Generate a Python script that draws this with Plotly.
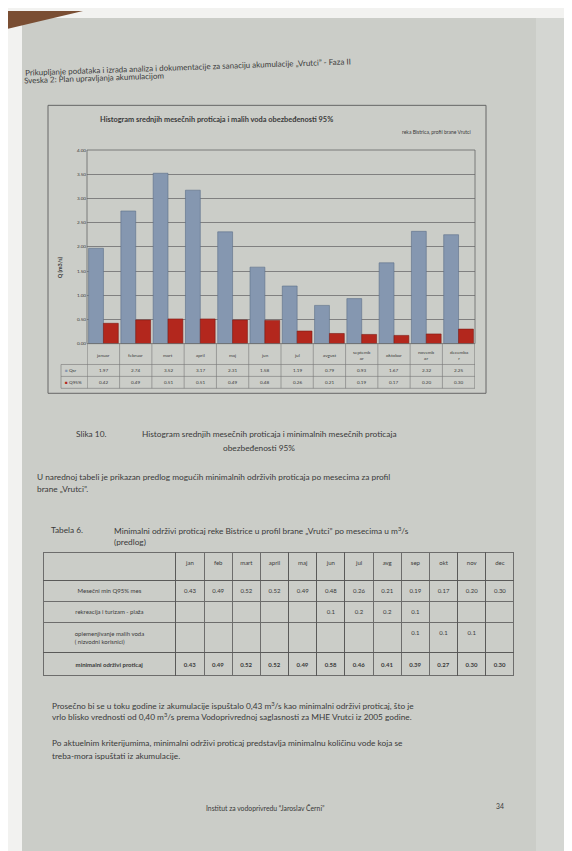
import plotly.graph_objects as go

# ---------------- data ----------------
months_chart = ["januar", "februar", "mart", "april", "maj", "jun", "jul",
                "avgust", "septemb<br>ar", "oktobar", "novemb<br>ar", "decemba<br>r"]
q_sr = [1.97, 2.74, 3.52, 3.17, 2.31, 1.58, 1.19, 0.79, 0.93, 1.67, 2.32, 2.25]
q_95 = [0.42, 0.49, 0.51, 0.51, 0.49, 0.48, 0.26, 0.21, 0.19, 0.17, 0.20, 0.30]
y_ticks = [0.0, 0.5, 1.0, 1.5, 2.0, 2.5, 3.0, 3.5, 4.0]

tab_months = ["jan", "feb", "mart", "april", "maj", "jun", "jul", "avg",
              "sep", "okt", "nov", "dec"]
tab_row_labels = ["Mesečni min Q95% mes", "rekreacija i turizam - plaža",
                  "oplemenjivanje malih voda<br>( nizvodni korisnici)",
                  "<b>minimalni održivi proticaj</b>"]
tab_q95 = ["0.43", "0.49", "0.52", "0.52", "0.49", "0.48", "0.26", "0.21", "0.19", "0.17", "0.20", "0.30"]
tab_rek = ["", "", "", "", "", "0.1", "0.2", "0.2", "0.1", "", "", ""]
tab_opl = ["", "", "", "", "", "", "", "", "0.1", "0.1", "0.1", ""]
tab_min = ["0.43", "0.49", "0.52", "0.52", "0.49", "0.58", "0.46", "0.41", "0.39", "0.27", "0.30", "0.30"]

# ---------------- helpers ----------------
W, H = 572, 851
def px(x): return x / W
def py(y): return 1 - y / H

PAGE = "#CBCDC8"
TXT = "#3a3a3a"
BLUE = "#8597B0"
RED = "#B3271D"
FONT = "Lato"

fig = go.Figure()
fig.add_bar(x=months_chart, y=q_sr, name="Qsr",
            marker=dict(color=BLUE, line=dict(color="#5d6f88", width=0.6)))
fig.add_bar(x=months_chart, y=q_95, name="Q95%",
            marker=dict(color=RED, line=dict(color="#7d1a13", width=0.6)))

# Table 6
cols = [tab_row_labels]
for i in range(12):
    cols.append([tab_q95[i], tab_rek[i], tab_opl[i], "<b>%s</b>" % tab_min[i]])
fig.add_trace(go.Table(
    domain=dict(x=[px(35), px(506)], y=[py(678), py(545)]),
    columnwidth=[133] + [28.2] * 12,
    header=dict(values=[" "] + tab_months, height=28, fill_color=PAGE,
                line=dict(color="#555", width=0.8),
                font=dict(family=FONT, size=6, color=TXT), align="center"),
    cells=dict(values=cols, height=21, fill_color=PAGE,
               line=dict(color="#555", width=0.8),
               font=dict(family=FONT, size=6, color=TXT), align="center"),
))

shapes = []
# page background & photo edges
shapes.append(dict(type="rect", xref="paper", yref="paper", x0=px(14), x1=px(572),
                   y0=py(851), y1=py(7), fillcolor=PAGE, line=dict(width=0), layer="below"))
shapes.append(dict(type="rect", xref="paper", yref="paper", x0=px(528), x1=px(572),
                   y0=py(851), y1=py(7), fillcolor="#D4D6D2", line=dict(width=0), layer="below"))
shapes.append(dict(type="path", xref="paper", yref="paper",
                   path="M %f,%f L %f,%f L %f,%f Z" % (px(0), py(0), px(75), py(0), px(0), py(18)),
                   fillcolor="#7a4e33", line=dict(width=0), layer="below"))
# chart frame
shapes.append(dict(type="rect", xref="paper", yref="paper", x0=px(40), x1=px(478),
                   y0=py(385), y1=py(95), line=dict(color="#666", width=1)))
# plot area border
shapes.append(dict(type="rect", xref="x domain", yref="y domain", x0=0, x1=1, y0=0, y1=1,
                   line=dict(color="#666", width=0.8)))
# data table under chart
n = len(months_chart)
for k in range(n + 1):
    shapes.append(dict(type="line", xref="x", yref="paper", x0=k - 0.5, x1=k - 0.5,
                       y0=py(380), y1=py(335), line=dict(color="#777", width=0.6)))
for yy in (356, 368, 380):
    shapes.append(dict(type="line", xref="paper", yref="paper", x0=px(53), x1=px(467),
                       y0=py(yy), y1=py(yy), line=dict(color="#777", width=0.6)))
shapes.append(dict(type="line", xref="paper", yref="paper", x0=px(53), x1=px(53),
                   y0=py(380), y1=py(356), line=dict(color="#777", width=0.6)))

ann = []
for i, m in enumerate(months_chart):
    ann.append(dict(x=m, y=py(346), xref="x", yref="paper", text=m, showarrow=False,
                    font=dict(family=FONT, size=4.6, color=TXT)))
    ann.append(dict(x=m, y=py(362), xref="x", yref="paper", text="%.2f" % q_sr[i], showarrow=False,
                    font=dict(family=FONT, size=4.6, color=TXT)))
    ann.append(dict(x=m, y=py(374), xref="x", yref="paper", text="%.2f" % q_95[i], showarrow=False,
                    font=dict(family=FONT, size=4.6, color=TXT)))
ann.append(dict(x=px(55), y=py(362), xref="paper", yref="paper", xanchor="left",
                text="<span style='color:%s'>■</span> Qsr" % BLUE, showarrow=False,
                font=dict(family=FONT, size=4.6, color=TXT)))
ann.append(dict(x=px(55), y=py(374), xref="paper", yref="paper", xanchor="left",
                text="<span style='color:%s'>■</span> Q95%%" % RED, showarrow=False,
                font=dict(family=FONT, size=4.6, color=TXT)))
ann.append(dict(x=px(47), y=py(245), xref="paper", yref="paper", textangle=-90,
                text="<b>Q (m3/s)</b>", showarrow=False, font=dict(family=FONT, size=5.5, color=TXT)))

def txt(x, y, s, size=8.3, anchor="left", bold=False, angle=0):
    ann.append(dict(x=px(x), y=py(y), xref="paper", yref="paper", xanchor=anchor, yanchor="middle",
                    text=("<b>%s</b>" % s) if bold else s, showarrow=False, textangle=angle,
                    font=dict(family=FONT, size=size, color=TXT)))

txt(180, 56, "Prikupljanje podataka i izrada analiza i dokumentacije za sanaciju akumulacije „Vrutci” - Faza II",
    size=8, anchor="center", angle=-2)
txt(86, 67, "Sveska 2: Plan upravljanja akumulacijom", size=8, anchor="center", angle=-2)
txt(90, 109, "Histogram srednjih mesečnih proticaja i malih voda obezbeđenosti 95%", size=7.4, bold=True)
txt(465, 122, "reka Bistrica, profil brane Vrutci", size=5, anchor="right")

txt(66, 426, "Slika 10.", size=8.3)
txt(132, 426, "Histogram srednjih mesečnih proticaja i minimalnih mesečnih proticaja", size=8.3)
txt(251, 440, "obezbeđenosti 95%", size=8.3, anchor="center")
txt(27, 469, "U narednoj tabeli je prikazan predlog mogućih minimalnih održivih proticaja po mesecima za profil", size=8.3)
txt(27, 481, "brane „Vrutci”.", size=8.3)
txt(41, 523, "Tabela 6.", size=8.3)
txt(104, 523, "Minimalni održivi proticaj reke Bistrice u profil brane „Vrutci” po mesecima u m<sup>3</sup>/s", size=8.3)
txt(104, 535, "(predlog)", size=8.3)
txt(42, 699, "Prosečno bi se u toku godine iz akumulacije ispuštalo 0,43 m<sup>3</sup>/s kao minimalni održivi proticaj, što je", size=8.3)
txt(42, 711, "vrlo blisko vrednosti od 0,40 m<sup>3</sup>/s prema Vodoprivrednoj saglasnosti za MHE Vrutci iz 2005 godine.", size=8.3)
txt(42, 737, "Po aktuelnim kriterijumima, minimalni održivi proticaj predstavlja minimalnu količinu vode koja se", size=8.3)
txt(42, 750, "treba-mora ispuštati iz akumulacije.", size=8.3)
txt(257, 803, "Institut za vodoprivredu “Jaroslav Černi”", size=6.8, anchor="center")
txt(492, 801, "34", size=6.8, anchor="center")

fig.update_layout(
    width=W, height=H, margin=dict(l=0, r=0, t=0, b=0),
    paper_bgcolor="#F2F2F0", plot_bgcolor=PAGE,
    barmode="group", bargap=0.08, bargroupgap=0,
    showlegend=False,
    xaxis=dict(domain=[px(79), px(467)], showticklabels=False, showgrid=False,
               zeroline=False, fixedrange=True),
    yaxis=dict(domain=[py(335), py(140)], range=[0, 4], tickvals=y_ticks,
               ticktext=["%.2f" % v for v in y_ticks], tickfont=dict(family=FONT, size=4.6, color=TXT),
               gridcolor="#808080", gridwidth=0.7, zeroline=False, showline=False, ticks=""),
    shapes=shapes, annotations=ann,
)

fig.write_html("out.html")
